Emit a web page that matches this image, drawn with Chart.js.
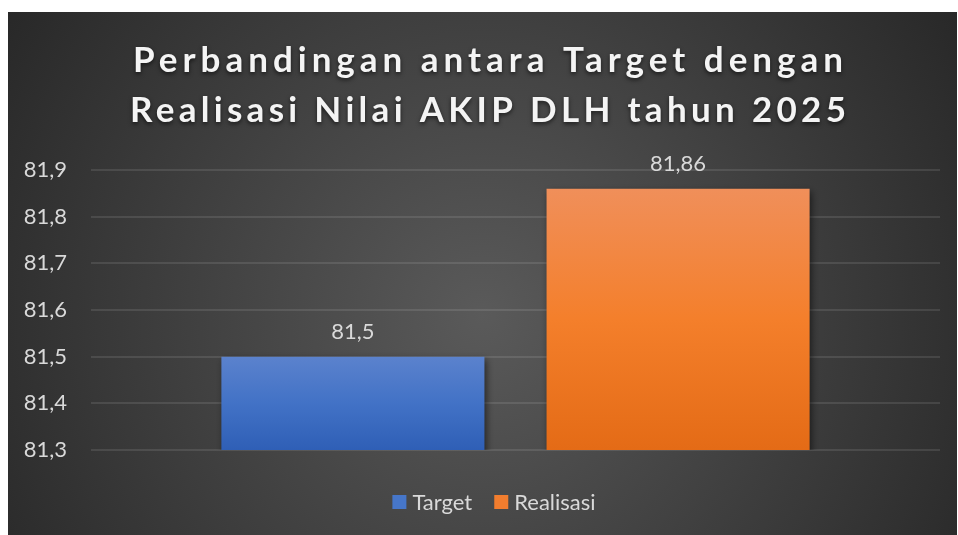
<!DOCTYPE html>
<html>
<head>
<meta charset="utf-8">
<script src="https://cdn.jsdelivr.net/npm/chart.js@4.4.1/dist/chart.umd.min.js"></script>
<style>
    html, body { margin: 0; padding: 0; background: #ffffff; }
    #wrap { position: absolute; left: 8px; top: 12px; width: 949px; height: 523px; }
</style>
</head>
<body>
<div id="wrap"><canvas id="myChart"></canvas></div>
<script>
// Données du graphique
const titleLines = ['Perbandingan antara Target dengan', 'Realisasi Nilai AKIP DLH tahun 2025'];
const categories = [''];
const seriesNames = ['Target', 'Realisasi'];
const targetValues = [81.5];
const realisasiValues = [81.86];
const yMin = 81.3;
const yMax = 81.9;
const yStep = 0.1;

const FONT = 'Lato';
const TEXT = '#d9d9d9';
const legendColors = ['#4676c9', '#f27d2e'];

function comma(v, digits) {
    const s = digits === undefined ? String(v) : v.toFixed(digits);
    return s.replace('.', ',');
}

// Dégradé vertical pour chaque barre
function barFill(stops, solid) {
    return function (context) {
        const chart = context.chart;
        const area = chart.chartArea;
        if (!area || context.raw === undefined || !chart.scales.y) return solid;
        const top = chart.scales.y.getPixelForValue(context.raw);
        if (!isFinite(top)) return solid;
        const g = chart.ctx.createLinearGradient(0, top, 0, area.bottom);
        g.addColorStop(0, stops[0]);
        g.addColorStop(0.5, stops[1]);
        g.addColorStop(1, stops[2]);
        return g;
    };
}

// Fond sombre avec dégradé radial
const backgroundPlugin = {
    id: 'background',
    beforeDraw(chart) {
        const ctx = chart.ctx;
        const w = chart.width, h = chart.height;
        const g = ctx.createRadialGradient(w * 0.5, h * 0.58, 0, w * 0.5, h * 0.58, w * 0.62);
        g.addColorStop(0, '#5a5a5a');
        g.addColorStop(1, '#262626');
        ctx.save();
        ctx.fillStyle = g;
        ctx.fillRect(0, 0, w, h);
        ctx.restore();
    }
};

// Ombre sous les barres
const shadowPlugin = {
    id: 'barShadow',
    beforeDatasetsDraw(chart) {
        const ctx = chart.ctx;
        ctx.save();
        ctx.shadowColor = 'rgba(0,0,0,0.55)';
        ctx.shadowBlur = 7;
        ctx.shadowOffsetX = 2;
        ctx.shadowOffsetY = 3;
    },
    afterDatasetsDraw(chart) {
        chart.ctx.restore();
    }
};

// Étiquettes de valeurs au-dessus des barres
const valueLabelPlugin = {
    id: 'valueLabels',
    afterDatasetsDraw(chart) {
        const ctx = chart.ctx;
        ctx.save();
        ctx.font = '22px ' + FONT;
        ctx.fillStyle = TEXT;
        ctx.textAlign = 'center';
        ctx.textBaseline = 'middle';
        chart.data.datasets.forEach(function (ds, i) {
            chart.getDatasetMeta(i).data.forEach(function (bar, j) {
                ctx.fillText(comma(ds.data[j]), bar.x, bar.y - 25);
            });
        });
        ctx.restore();
    }
};

// Légende en bas, dessinée à la main
const legendPlugin = {
    id: 'bottomLegend',
    afterDraw(chart) {
        const ctx = chart.ctx;
        const centerX = 486, centerY = 490;
        const box = 14, textGap = 6, itemGap = 22;
        ctx.save();
        ctx.font = '22px ' + FONT;
        ctx.textBaseline = 'middle';
        ctx.textAlign = 'left';
        const widths = chart.data.datasets.map(function (ds) {
            return box + textGap + ctx.measureText(ds.label).width;
        });
        const total = widths.reduce(function (a, b) { return a + b; }, 0) + itemGap * (widths.length - 1);
        let x = centerX - total / 2;
        chart.data.datasets.forEach(function (ds, i) {
            ctx.fillStyle = legendColors[i];
            ctx.fillRect(x, centerY - box / 2, box, box);
            ctx.fillStyle = TEXT;
            ctx.fillText(ds.label, x + box + textGap, centerY + 1);
            x += widths[i] + itemGap;
        });
        ctx.restore();
    }
};

// Titre avec espacement des lettres
const titlePlugin = {
    id: 'spacedTitle',
    afterDraw(chart) {
        const ctx = chart.ctx;
        const centerX = 480;
        const widths = [710, 716];
        const baselines = [60, 110];
        ctx.save();
        ctx.font = 'bold 35px ' + FONT;
        ctx.fillStyle = '#f4f4f4';
        ctx.textBaseline = 'alphabetic';
        ctx.textAlign = 'left';
        ctx.shadowColor = 'rgba(0,0,0,0.6)';
        ctx.shadowBlur = 4;
        ctx.shadowOffsetY = 2;
        titleLines.forEach(function (line, i) {
            ctx.letterSpacing = '0px';
            const natural = ctx.measureText(line).width;
            const spacing = (widths[i] - natural) / (line.length - 1);
            ctx.letterSpacing = spacing + 'px';
            ctx.fillText(line, centerX - widths[i] / 2, baselines[i]);
        });
        ctx.restore();
    }
};

document.addEventListener('DOMContentLoaded', function () {
    const ctx = document.getElementById('myChart').getContext('2d');

    new Chart(ctx, {
        type: 'bar',
        data: {
            labels: categories,
            datasets: [{
                label: seriesNames[0],
                data: targetValues,
                backgroundColor: barFill(['#5b82cd', '#4272c6', '#2f5fb6'], '#4674c8')
            }, {
                label: seriesNames[1],
                data: realisasiValues,
                backgroundColor: barFill(['#f08f5a', '#f47f2b', '#e46b16'], '#f07c2c')
            }]
        },
        options: {
            responsive: true,
            maintainAspectRatio: false,
            animation: false,
            categoryPercentage: 0.766,
            barPercentage: 0.809,
            layout: { padding: { top: 158, right: 17, bottom: 85, left: 0 } },
            scales: {
                x: { display: false },
                y: {
                    min: yMin,
                    max: yMax,
                    beginAtZero: false,
                    afterFit: function (s) { s.width = 83; },
                    grid: { color: 'rgba(255,255,255,0.10)', lineWidth: 2, drawTicks: false },
                    border: { display: false },
                    ticks: {
                        stepSize: yStep,
                        padding: 24,
                        color: TEXT,
                        font: { family: FONT, size: 22 },
                        callback: function (v) { return comma(v, 1); }
                    }
                }
            },
            plugins: {
                legend: { display: false },
                tooltip: { enabled: false }
            }
        },
        plugins: [backgroundPlugin, shadowPlugin, valueLabelPlugin, legendPlugin, titlePlugin]
    });
});
</script>
</body>
</html>
